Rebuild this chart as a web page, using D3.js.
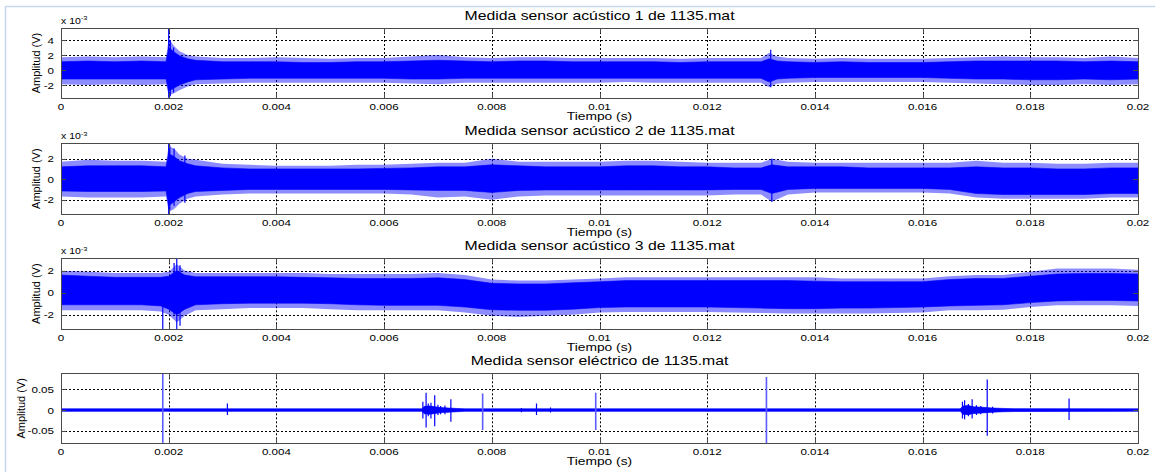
<!DOCTYPE html>
<html>
<head>
<meta charset="utf-8">
<script src="https://cdn.jsdelivr.net/npm/d3@7"></script>
<style>
	body { margin: 0; background: #fff; }
	svg { display: block; font-family: "Liberation Sans", Arial, sans-serif; }
	text { fill: #000; }
	.tick-label { font-size: 11.6px; }
	.title { font-size: 15.8px; }
	.xlabel { font-size: 13.8px; }
	.ylabel { font-size: 11px; }
	.expo { font-size: 10.5px; }
</style>
</head>
<body>
<div id="graphic"></div>
<script>
// times in ms, acoustic amplitudes in x10^-3 V, electric in V
// envelopes: peak = tips of the noise, core = solid band

const titles = [
	'Medida sensor acústico 1 de 1135.mat',
	'Medida sensor acústico 2 de 1135.mat',
	'Medida sensor acústico 3 de 1135.mat',
	'Medida sensor eléctrico de 1135.mat'
];
const xTicks = [0, 2, 4, 6, 8, 10, 12, 14, 16, 18, 20];

// sensor 1
const t1 = [0, 0.5, 1, 1.5, 1.95, 2.0, 2.1, 2.2, 2.35, 2.5, 3, 3.5, 4, 4.5, 5, 5.5, 6, 6.5, 7, 7.5, 8, 8.5, 9, 9.5, 10, 10.5, 11, 11.5, 12, 12.5, 13, 13.15, 13.3, 13.5, 14, 14.5, 15, 15.5, 16, 16.5, 17, 17.5, 18, 18.5, 19, 19.5, 20];
const peakHi1 = [1.7, 1.8, 1.7, 1.8, 1.7, 4.2, 3.2, 2.5, 2.0, 1.8, 1.6, 1.6, 1.7, 1.6, 1.5, 1.6, 1.6, 1.8, 2.0, 1.7, 1.6, 1.7, 1.7, 1.6, 1.6, 1.6, 1.6, 1.5, 1.6, 1.6, 1.6, 2.3, 1.8, 1.6, 1.5, 1.6, 1.5, 1.5, 1.5, 1.6, 1.7, 1.8, 1.7, 1.7, 1.6, 1.8, 1.6];
const coreHi1 = [1.1, 1.2, 1.1, 1.2, 1.1, 3.0, 2.4, 1.9, 1.5, 1.3, 1.1, 1.1, 1.1, 1.0, 1.0, 1.1, 1.1, 1.2, 1.3, 1.2, 1.1, 1.2, 1.2, 1.1, 1.1, 1.1, 1.1, 1.0, 1.1, 1.1, 1.1, 1.5, 1.2, 1.1, 1.0, 1.1, 1.0, 1.0, 1.0, 1.1, 1.2, 1.2, 1.2, 1.2, 1.1, 1.2, 1.1];
const coreLo1 = [-1.2, -1.2, -1.2, -1.2, -1.2, -2.8, -2.4, -2.0, -1.6, -1.3, -1.2, -1.1, -1.1, -1.1, -1.1, -1.1, -1.1, -1.2, -1.2, -1.1, -1.1, -1.1, -1.1, -1.1, -1.1, -1.1, -1.1, -1.1, -1.1, -1.1, -1.1, -1.6, -1.2, -1.1, -1.0, -1.0, -1.0, -1.0, -1.0, -1.1, -1.2, -1.2, -1.3, -1.3, -1.2, -1.3, -1.2];
const peakLo1 = [-1.9, -2.0, -1.9, -2.0, -1.9, -3.4, -3.1, -2.7, -2.2, -1.9, -1.8, -1.7, -1.7, -1.7, -1.7, -1.7, -1.7, -1.8, -1.9, -1.7, -1.7, -1.7, -1.7, -1.7, -1.7, -1.6, -1.7, -1.7, -1.7, -1.7, -1.7, -2.3, -1.8, -1.7, -1.6, -1.6, -1.6, -1.6, -1.6, -1.7, -1.8, -1.9, -2.0, -2.0, -1.9, -2.0, -1.9];
const spikes1 = [[2.0, -3.7, 5.6], [2.03, -3.5, 4.0], [2.09, -3.0, 3.0], [13.18, -2.3, 2.7]];

// sensor 2
const t2 = [0, 0.5, 1, 1.5, 1.95, 2.0, 2.1, 2.2, 2.35, 2.5, 3, 3.5, 4, 4.5, 5, 5.5, 6, 6.5, 7, 7.5, 8, 8.5, 9, 9.5, 10, 10.5, 11, 11.5, 12, 12.5, 13, 13.2, 13.5, 14, 14.5, 15, 15.5, 16, 16.5, 17, 17.5, 18, 18.5, 19, 19.5, 20];
const peakHi2 = [1.7, 1.9, 1.8, 1.8, 1.7, 3.2, 3.0, 2.4, 2.0, 1.9, 1.5, 1.4, 1.3, 1.3, 1.3, 1.4, 1.4, 1.5, 1.6, 1.6, 2.0, 1.7, 1.7, 1.7, 1.7, 1.8, 1.8, 1.7, 1.6, 1.6, 1.6, 2.0, 1.7, 1.6, 1.6, 1.6, 1.6, 1.6, 1.6, 1.8, 1.6, 1.6, 1.5, 1.5, 1.6, 1.6];
const coreHi2 = [1.2, 1.3, 1.3, 1.3, 1.2, 2.5, 2.2, 1.8, 1.5, 1.3, 1.1, 1.0, 1.0, 1.0, 1.0, 1.0, 1.05, 1.1, 1.2, 1.2, 1.4, 1.3, 1.2, 1.2, 1.2, 1.3, 1.3, 1.2, 1.2, 1.1, 1.1, 1.4, 1.2, 1.2, 1.2, 1.1, 1.1, 1.1, 1.1, 1.2, 1.1, 1.1, 1.0, 1.0, 1.1, 1.1];
const coreLo2 = [-1.15, -1.2, -1.2, -1.2, -1.15, -2.6, -2.2, -1.8, -1.4, -1.2, -1.1, -1.0, -1.0, -1.0, -1.0, -1.0, -1.0, -1.05, -1.1, -1.1, -1.3, -1.1, -1.05, -1.05, -1.05, -1.05, -1.05, -1.05, -1.05, -1.0, -1.0, -1.4, -1.0, -0.9, -0.9, -0.9, -0.9, -0.9, -1.0, -1.4, -1.5, -1.5, -1.5, -1.5, -1.4, -1.4];
const peakLo2 = [-1.7, -1.8, -1.8, -1.8, -1.7, -3.2, -2.9, -2.4, -1.9, -1.7, -1.5, -1.4, -1.4, -1.4, -1.4, -1.4, -1.4, -1.5, -1.8, -1.7, -2.0, -1.7, -1.6, -1.6, -1.6, -1.6, -1.6, -1.6, -1.6, -1.5, -1.5, -2.2, -1.5, -1.3, -1.3, -1.3, -1.3, -1.3, -1.4, -1.8, -1.9, -1.9, -1.9, -1.9, -1.8, -1.8];
const spikes2 = [[2.0, -3.4, 3.5], [2.02, -3.0, 3.3], [2.1, -2.6, 3.0], [2.3, -2.3, 2.3], [13.2, -2.2, 2.0]];

// sensor 3
const t3 = [0, 0.5, 1, 1.5, 1.85, 2.0, 2.15, 2.3, 2.5, 3, 3.5, 4, 4.5, 5, 5.5, 6, 6.5, 7, 7.5, 8, 8.5, 9, 9.5, 10, 10.5, 11, 11.5, 12, 12.5, 13, 13.5, 14, 14.5, 15, 15.5, 16, 16.5, 17, 17.5, 18, 18.5, 19, 19.5, 20];
const peakHi3 = [2.0, 1.9, 1.8, 1.8, 1.8, 1.9, 2.6, 2.0, 1.8, 1.8, 1.8, 1.8, 1.8, 1.7, 1.7, 1.7, 1.7, 1.8, 1.6, 1.2, 1.1, 1.1, 1.2, 1.3, 1.4, 1.4, 1.4, 1.4, 1.4, 1.4, 1.4, 1.4, 1.3, 1.3, 1.3, 1.3, 1.5, 1.6, 1.6, 1.9, 2.2, 2.2, 2.2, 2.1];
const coreHi3 = [1.6, 1.5, 1.4, 1.4, 1.4, 1.5, 2.0, 1.6, 1.45, 1.45, 1.45, 1.45, 1.4, 1.35, 1.3, 1.3, 1.3, 1.35, 1.2, 0.85, 0.8, 0.8, 0.9, 1.0, 1.1, 1.1, 1.1, 1.1, 1.1, 1.1, 1.1, 1.05, 1.0, 1.0, 1.0, 1.0, 1.2, 1.3, 1.3, 1.5, 1.7, 1.75, 1.75, 1.7];
const coreLo3 = [-1.1, -1.1, -1.1, -1.1, -1.2, -1.5, -2.0, -1.5, -1.1, -1.0, -0.95, -0.95, -0.95, -1.0, -1.1, -1.15, -1.15, -1.15, -1.3, -1.55, -1.6, -1.6, -1.5, -1.35, -1.3, -1.3, -1.3, -1.3, -1.35, -1.4, -1.45, -1.45, -1.4, -1.4, -1.35, -1.3, -1.2, -1.15, -1.1, -0.9, -0.75, -0.7, -0.7, -0.75];
const peakLo3 = [-1.6, -1.6, -1.6, -1.6, -1.7, -2.0, -2.7, -2.1, -1.6, -1.5, -1.4, -1.4, -1.4, -1.5, -1.6, -1.6, -1.6, -1.6, -1.8, -2.1, -2.2, -2.1, -2.0, -1.8, -1.75, -1.75, -1.75, -1.75, -1.8, -1.85, -1.9, -1.9, -1.9, -1.9, -1.85, -1.8, -1.6, -1.6, -1.55, -1.3, -1.15, -1.15, -1.15, -1.2];
const spikes3 = [[1.89, -3.3, 0], [2.1, -2.0, 2.7], [2.15, -3.3, 3.1], [2.21, -3.0, 2.5]];

// electric sensor (V)
const t4 = [0, 6.7, 6.75, 6.85, 6.95, 7.05, 7.2, 7.35, 7.5, 16.7, 16.75, 16.85, 16.95, 17.1, 17.3, 17.5, 17.7, 20];
const hi4 = [0.003, 0.003, 0.009, 0.01, 0.008, 0.006, 0.005, 0.004, 0.003, 0.003, 0.01, 0.011, 0.008, 0.007, 0.005, 0.004, 0.0035, 0.003];
const lo4 = [-0.003, -0.003, -0.009, -0.01, -0.008, -0.006, -0.005, -0.004, -0.003, -0.003, -0.01, -0.011, -0.008, -0.007, -0.005, -0.004, -0.0035, -0.003];
const spikes4 = [[3.09, -0.012, 0.016], [6.72, -0.02, 0.02], [6.78, -0.042, 0.042], [6.82, -0.015, 0.016], [6.87, -0.02, 0.018], [6.94, -0.039, 0.036], [7.0, -0.012, 0.013], [7.05, -0.01, 0.01], [7.13, -0.01, 0.011], [7.24, -0.028, 0.026], [8.55, -0.005, 0.005], [8.83, -0.012, 0.016], [9.09, -0.006, 0.006], [16.74, -0.02, 0.02], [16.78, -0.022, 0.024], [16.85, -0.015, 0.015], [16.92, -0.02, 0.026], [17.0, -0.012, 0.012], [17.08, -0.01, 0.01], [17.2, -0.062, 0.074], [17.3, -0.008, 0.008], [18.72, -0.024, 0.028]];
const faintSpikes4 = [[1.89, -0.08, 0.089], [7.83, -0.048, 0.040], [9.93, -0.048, 0.042], [13.1, -0.08, 0.080]];

const yDomains = [[-3.73, 5.6], [-3.4, 3.5], [-3.3, 3.13], [-0.080, 0.0887]];
const yTicks = [[-2, 0, 2, 4], [-2, 0, 2], [-2, 0, 2], [-0.05, 0, 0.05]];

const panels = [
	{ t: t1, peakHi: peakHi1, coreHi: coreHi1, coreLo: coreLo1, peakLo: peakLo1, spikes: spikes1, faint: [] },
	{ t: t2, peakHi: peakHi2, coreHi: coreHi2, coreLo: coreLo2, peakLo: peakLo2, spikes: spikes2, faint: [] },
	{ t: t3, peakHi: peakHi3, coreHi: coreHi3, coreLo: coreLo3, peakLo: peakLo3, spikes: spikes3, faint: [] },
	{ t: t4, peakHi: hi4, coreHi: hi4, coreLo: lo4, peakLo: lo4, spikes: spikes4, faint: faintSpikes4 }
];

const width = 1155, height = 472;
const left = 61, right = 1138;
const tops = [28, 143.3, 258.3, 373.3];
const bottoms = [98, 214, 329, 443.3];
const ylabelX = [36, 36, 36, 21];
const squash = 0.8; // the figure was pasted squeezed vertically
const blue = '#0000ff';

const svg = d3.select('#graphic').append('svg')
	.attr('width', width)
	.attr('height', height);

// the light frame of the pasted figure
svg.append('line').attr('x1', 5.5).attr('x2', 5.5).attr('y1', 6).attr('y2', height)
	.attr('stroke', '#c6d6ef').attr('stroke-width', 1.5);
svg.append('line').attr('x1', 5).attr('x2', width).attr('y1', 6.5).attr('y2', 6.5)
	.attr('stroke', '#c6d6ef').attr('stroke-width', 1.5);

const x = d3.scaleLinear().domain([0, 20]).range([left, right]);
const fmtX = (d) => String(+(d / 1000).toFixed(3));

// text squeezed vertically round its baseline
function flatText(parent, px, py, str, cls, anchor) {
	return parent.append('g')
		.attr('transform', `translate(${px}, ${py}) scale(1, ${squash})`)
		.append('text')
		.attr('class', cls)
		.attr('text-anchor', anchor)
		.text(str);
}

function drawPanel(p, i) {
	const y = d3.scaleLinear().domain(yDomains[i]).range([bottoms[i], tops[i]]);
	const g = svg.append('g');
	const clipId = 'clip' + i;
	g.append('clipPath').attr('id', clipId).append('rect')
		.attr('x', left).attr('y', tops[i]).attr('width', right - left).attr('height', bottoms[i] - tops[i]);

	// grid behind the signal
	const grid = g.append('g').attr('stroke', '#000').attr('stroke-width', 1).attr('stroke-dasharray', '2,2');
	xTicks.forEach((d) => {
		grid.append('line').attr('x1', Math.round(x(d)) + 0.5).attr('x2', Math.round(x(d)) + 0.5)
			.attr('y1', tops[i]).attr('y2', bottoms[i]);
	});
	yTicks[i].forEach((d) => {
		grid.append('line').attr('x1', left).attr('x2', right)
			.attr('y1', Math.round(y(d)) + 0.5).attr('y2', Math.round(y(d)) + 0.5);
	});

	const sig = g.append('g').attr('clip-path', `url(#${clipId})`);
	const idx = d3.range(p.t.length);

	// noise tips (lighter) and solid band
	sig.append('path')
		.datum(idx)
		.attr('fill', blue)
		.attr('fill-opacity', 0.45)
		.attr('d', d3.area().x((k) => x(p.t[k])).y0((k) => y(p.peakLo[k])).y1((k) => y(p.peakHi[k])));
	sig.append('path')
		.datum(idx)
		.attr('fill', blue)
		.attr('stroke', blue)
		.attr('stroke-width', 0.6)
		.attr('d', d3.area().x((k) => x(p.t[k])).y0((k) => y(p.coreLo[k])).y1((k) => y(p.coreHi[k])));

	sig.selectAll('line.spike')
		.data(p.spikes)
		.join('line')
		.attr('class', 'spike')
		.attr('x1', (d) => x(d[0])).attr('x2', (d) => x(d[0]))
		.attr('y1', (d) => y(d[1])).attr('y2', (d) => y(d[2]))
		.attr('stroke', blue).attr('stroke-width', 1.2);

	sig.selectAll('line.faint')
		.data(p.faint)
		.join('line')
		.attr('class', 'faint')
		.attr('x1', (d) => x(d[0])).attr('x2', (d) => x(d[0]))
		.attr('y1', (d) => y(d[1])).attr('y2', (d) => y(d[2]))
		.attr('stroke', '#5c5cff').attr('stroke-width', 1.6);

	// box and inner ticks
	g.append('rect')
		.attr('x', left + 0.5).attr('y', Math.round(tops[i]) + 0.5)
		.attr('width', right - left).attr('height', Math.round(bottoms[i]) - Math.round(tops[i]))
		.attr('fill', 'none').attr('stroke', '#4a4a4a').attr('stroke-width', 1);

	const tk = g.append('g').attr('stroke', '#4a4a4a');
	xTicks.forEach((d) => {
		const xx = Math.round(x(d)) + 0.5;
		tk.append('line').attr('x1', xx).attr('x2', xx).attr('y1', bottoms[i]).attr('y2', bottoms[i] - 5);
		tk.append('line').attr('x1', xx).attr('x2', xx).attr('y1', tops[i]).attr('y2', tops[i] + 5);
	});
	yTicks[i].forEach((d) => {
		const yy = Math.round(y(d)) + 0.5;
		tk.append('line').attr('x1', left).attr('x2', left + 5).attr('y1', yy).attr('y2', yy);
		tk.append('line').attr('x1', right - 5).attr('x2', right).attr('y1', yy).attr('y2', yy);
	});

	// tick labels
	xTicks.forEach((d) => flatText(g, x(d), bottoms[i] + 11.5, fmtX(d), 'tick-label', 'middle'));
	yTicks[i].forEach((d) => flatText(g, left - 7, y(d) + 3.5, String(d), 'tick-label', 'end'));

	if (i < 3) {
		const ex = flatText(g, left, tops[i] - 4, 'x 10', 'expo', 'start');
		ex.append('tspan').attr('dy', -4.5).attr('font-size', 7.5).text('-3');
	}

	flatText(g, (left + right) / 2, tops[i] - 8, titles[i], 'title', 'middle');
	flatText(g, (left + right) / 2, bottoms[i] + 22, 'Tiempo (s)', 'xlabel', 'middle');

	const cy = (tops[i] + bottoms[i]) / 2;
	g.append('text').attr('class', 'ylabel')
		.attr('transform', `translate(${ylabelX[i] + 4}, ${cy}) rotate(-90)`)
		.attr('text-anchor', 'middle').text('Amplitud (V)');
}

panels.forEach(drawPanel);
</script>
</body>
</html>
